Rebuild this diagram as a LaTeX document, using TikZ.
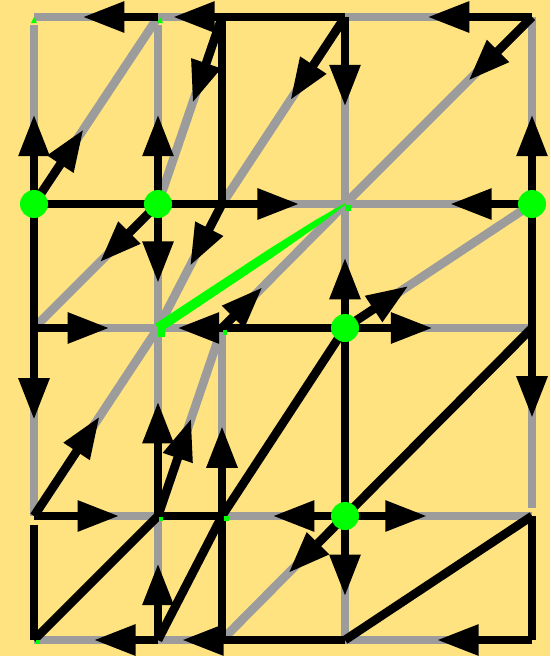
\documentclass[tikz,border=0pt]{standalone}
\usetikzlibrary{arrows.meta,calc}
\definecolor{bgyellow}{RGB}{254,227,128}
\definecolor{edgegray}{RGB}{156,156,156}
\definecolor{hlgreen}{RGB}{0,255,0}
\begin{document}
\begin{tikzpicture}[x=1pt,y=-1pt,
  gedge/.style={draw=edgegray,line width=8.7pt},
  bedge/.style={draw=black,line width=8.7pt},
  harrow/.style={draw=black,line width=8.7pt,-{Triangle[length=42pt,width=29pt]}},
  vdot/.style={circle,fill=hlgreen,minimum size=28pt,inner sep=0pt},
  gmark/.style={fill=hlgreen}]
\fill[bgyellow] (0,0) rectangle (550,656);
\useasboundingbox (0,0) rectangle (550,656);
% vertices
\foreach \c/\x in {A/34,B/158,C/222,D/345,E/532}
  \foreach \r/\y in {1/17,2/204,3/328,4/516,5/640}
    \coordinate (\c\r) at (\x,\y);
% gray half edges (full length, underneath)
\foreach \s/\e in {B1/A1,C1/B1,E1/D1,E1/D2,D1/D2,D1/C2,C1/B2,A2/B1,
  C2/D2,E2/D2,D3/E2,D3/D2,C3/D2,B2/B3,B2/A3,C2/B3,A3/B3,C3/B3,D3/E3,
  A4/B3,B4/B3,B4/C3,C4/C3,D4/C5,A4/B4,D4/C4,D4/E4,D4/D5,E5/D5,C5/B5,B5/A5,B5/B4}
  \draw[gedge] (\s) -- (\e);
\draw[gedge,shorten >=8pt] (A2) -- (A1);
\draw[gedge,shorten >=8pt] (B2) -- (B1);
\draw[gedge] (E2) -- (E1);
\draw[gedge,shorten >=8pt] (E3) -- (E4);
\draw[gedge] (A3) -- (A4);
% highlighted edge (tapered)
\fill[hlgreen] (160.8,332.2) -- (272.7,257.4) -- (318.7,225.1) -- (345.4,204.7)
  -- (344.6,203.3) -- (315.3,220.1) -- (267.7,249.9) -- (155.2,323.8) -- cycle;
\fill[hlgreen] (158,323) rectangle (165,337);
% full black edges
\foreach \s/\e in {C1/D1,C1/C2,A2/B2,B2/C2,E2/E3,E3/D4,A2/A3,C3/D3,C4/D3,D3/D4,
  B4/C4,E4/E5,E4/D5,C5/D5,A5/B4,B5/C4,C4/C5}
  \draw[bedge] (\s) -- (\e);
\draw[bedge] ($(A4)!9pt!(A5)$) -- (A5);
% black half edges with arrows
\foreach \s/\e/\f in {B1/A1/0.61,C1/B1/0.77,E1/D1/0.56,E1/D2/0.34,E2/E1/0.48,
  D1/D2/0.48,D1/C2/0.445,C1/B2/0.46,B2/B1/0.48,A2/A1/0.48,A2/B1/0.40,
  C2/D2/0.63,E2/D2/0.44,D3/E2/0.34,E3/E4/0.48,D3/E3/0.47,D4/C5/0.46,
  D3/D2/0.57,C3/D2/0.33,B2/B3/0.64,B2/A3/0.47,C2/B3/0.50,A3/A4/0.49,
  A3/B3/0.61,C3/B3/0.70,A4/B3/0.53,B4/B3/0.61,B4/C3/0.52,C4/C3/0.48,
  A4/B4/0.69,D4/C4/0.59,D4/E4/0.44,D4/D5/0.65,E5/D5/0.51,C5/B5/0.63,
  B5/A5/0.52,B5/B4/0.62}
  \draw[harrow] (\s) -- ($(\s)!\f!(\e)$);
% small green marks
\fill[gmark] (31,23) -- (37,23) -- (34,17) -- cycle;
\fill[gmark] (157,23) -- (163,23) -- (160,17) -- cycle;
\fill[gmark] (345,205) rectangle (351,211);
\fill[gmark] (223,330) rectangle (227,335);
\fill[gmark] (159,517) rectangle (163,521);
\fill[gmark] (224,516) rectangle (229,521);
\fill[gmark] (36,640) rectangle (40,644);
% green vertex dots
\foreach \v in {A2,B2,E2,D3,D4}
  \node[vdot] (dot\v) at (\v) {};
\end{tikzpicture}
\end{document}
